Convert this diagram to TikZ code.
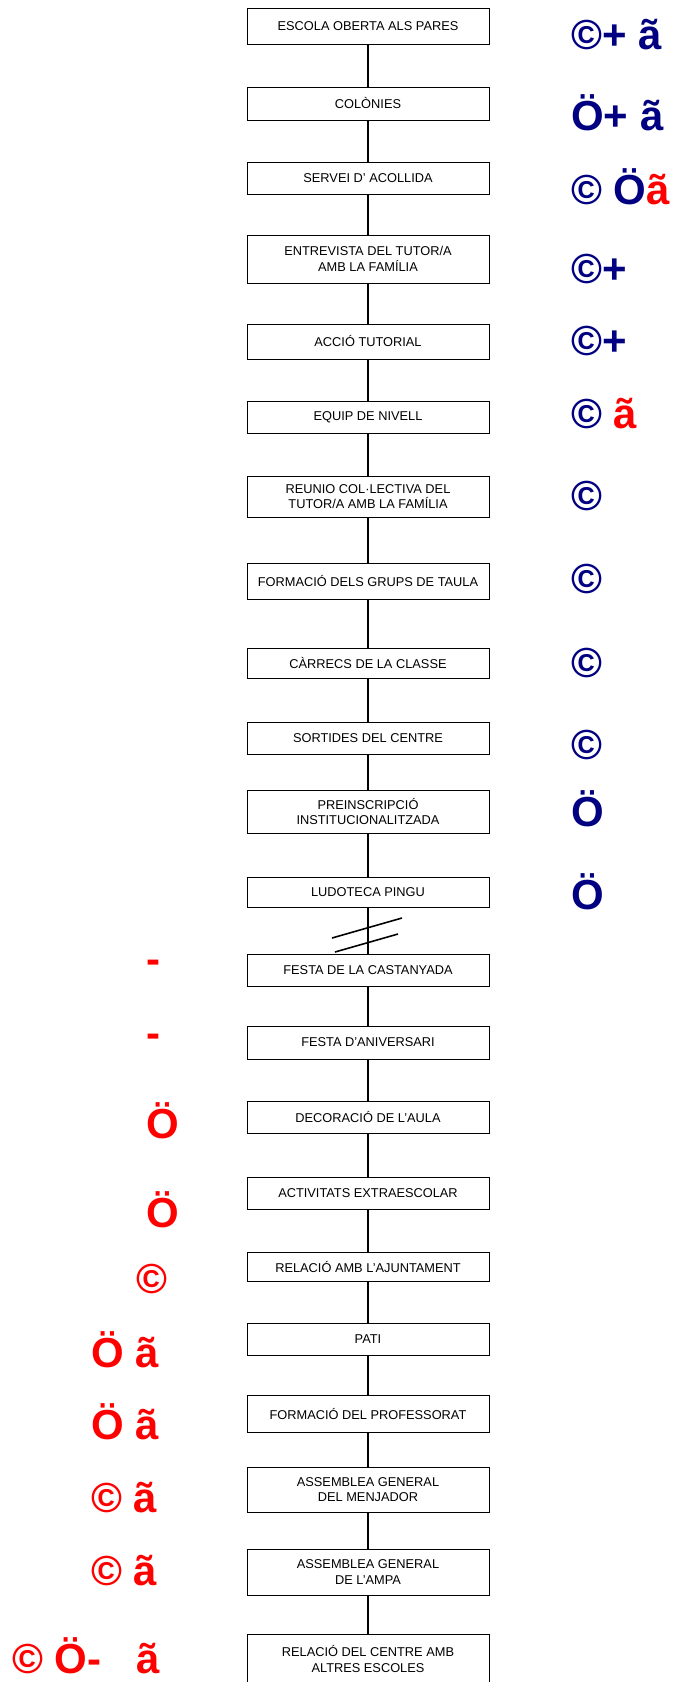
\documentclass[tikz,border=0pt]{standalone}
\usepackage{fontspec}
\setmainfont{Liberation Sans}
\usepackage{tikz}
\definecolor{symblue}{RGB}{0,0,128}
\definecolor{symred}{RGB}{255,0,0}
\tikzset{
	box/.style={draw=black, line width=1pt, minimum width=242, inner sep=0pt, align=center, font=\fontsize{12.8}{15.5}\selectfont},
	link/.style={line width=1.6pt},
	symb/.style={anchor=base west, inner sep=0pt, font=\fontsize{42}{42}\selectfont\bfseries},
	bluesym/.style={symb, text=symblue},
	redsym/.style={symb, text=symred}
}

\begin{document}
\begin{tikzpicture}[x=1pt, y=-1pt]
		%%%%% START %%%%%
		\useasboundingbox (0, 0) rectangle (674, 1682);
		
		\node[box, minimum height=36] (b1) at (368, 26) {ESCOLA OBERTA ALS PARES};
		\node[box, minimum height=33] (b2) at (368, 103.5) {COLÒNIES};
		\node[box, minimum height=32] (b3) at (368, 178) {SERVEI D' ACOLLIDA};
		\node[box, minimum height=48] (b4) at (368, 259) {ENTREVISTA DEL TUTOR/A\\AMB LA FAMÍLIA};
		\node[box, minimum height=35] (b5) at (368, 341.5) {ACCIÓ TUTORIAL};
		\node[box, minimum height=32] (b6) at (368, 417) {EQUIP DE NIVELL};
		\node[box, minimum height=41] (b7) at (368, 496.5) {REUNIO COL·LECTIVA DEL\\TUTOR/A AMB LA FAMÍLIA};
		\node[box, minimum height=36] (b8) at (368, 581) {FORMACIÓ DELS GRUPS DE TAULA};
		\node[box, minimum height=30] (b9) at (368, 663) {CÀRRECS DE LA CLASSE};
		\node[box, minimum height=32] (b10) at (368, 738) {SORTIDES DEL CENTRE};
		\node[box, minimum height=43] (b11) at (368, 811.5) {PREINSCRIPCIÓ\\INSTITUCIONALITZADA};
		\node[box, minimum height=30] (b12) at (368, 892) {LUDOTECA PINGU};
		
		\node[box, minimum height=32] (b13) at (368, 970) {FESTA DE LA CASTANYADA};
		\node[box, minimum height=33] (b14) at (368, 1042.5) {FESTA D'ANIVERSARI};
		\node[box, minimum height=32] (b15) at (368, 1117) {DECORACIÓ DE L'AULA};
		\node[box, minimum height=32] (b16) at (368, 1193) {ACTIVITATS EXTRAESCOLAR};
		\node[box, minimum height=29] (b17) at (368, 1266.5) {RELACIÓ AMB L'AJUNTAMENT};
		\node[box, minimum height=32] (b18) at (368, 1339) {PATI};
		\node[box, minimum height=37] (b19) at (368, 1413.5) {FORMACIÓ DEL PROFESSORAT};
		\node[box, minimum height=45] (b20) at (368, 1489.5) {ASSEMBLEA GENERAL\\DEL MENJADOR};
		\node[box, minimum height=46] (b21) at (368, 1572) {ASSEMBLEA GENERAL\\DE L'AMPA};
		\node[box, minimum height=50] (b22) at (368, 1659) {RELACIÓ DEL CENTRE AMB\\ALTRES ESCOLES};
		
		\draw[link] (b1) -- (b2);
		\draw[link] (b2) -- (b3);
		\draw[link] (b3) -- (b4);
		\draw[link] (b4) -- (b5);
		\draw[link] (b5) -- (b6);
		\draw[link] (b6) -- (b7);
		\draw[link] (b7) -- (b8);
		\draw[link] (b8) -- (b9);
		\draw[link] (b9) -- (b10);
		\draw[link] (b10) -- (b11);
		\draw[link] (b11) -- (b12);
		\draw[link] (b12) -- (b13);
		\draw[link] (b13) -- (b14);
		\draw[link] (b14) -- (b15);
		\draw[link] (b15) -- (b16);
		\draw[link] (b16) -- (b17);
		\draw[link] (b17) -- (b18);
		\draw[link] (b18) -- (b19);
		\draw[link] (b19) -- (b20);
		\draw[link] (b20) -- (b21);
		\draw[link] (b21) -- (b22);
		
		% break marks
		\draw[link] (332, 938) -- (402, 918);
		\draw[link] (335, 952) -- (398, 934);
		
		\node[bluesym] (s1) at (571, 49) {©+ ã};
		\node[bluesym] (s2) at (571, 130) {Ö+ ã};
		\node[bluesym] (s3) at (571, 204) {© Ö\textcolor{symred}{ã}};
		\node[bluesym] (s4) at (571, 283) {©+};
		\node[bluesym] (s5) at (571, 355) {©+};
		\node[bluesym] (s6) at (571, 428) {© \textcolor{symred}{ã}};
		\node[bluesym] (s7) at (571, 510) {©};
		\node[bluesym] (s8) at (571, 593) {©};
		\node[bluesym] (s9) at (571, 677) {©};
		\node[bluesym] (s10) at (571, 759) {©};
		\node[bluesym] (s11) at (571, 826) {Ö};
		\node[bluesym] (s12) at (571, 909) {Ö};
		
		\node[redsym] (s13) at (146, 973) {-};
		\node[redsym] (s14) at (146, 1047) {-};
		\node[redsym] (s15) at (146, 1138) {Ö};
		\node[redsym] (s16) at (146, 1227) {Ö};
		\node[redsym] (s17) at (136, 1293) {©};
		\node[redsym] (s18) at (91, 1367) {Ö ã};
		\node[redsym] (s19) at (91, 1439) {Ö ã};
		\node[redsym] (s20) at (91, 1512) {© ã};
		\node[redsym] (s21) at (91, 1585) {© ã};
		\node[redsym] (s22) at (12, 1673) {© Ö-\ \ \ ã};
		
		%%%%% END %%%%%
	\end{tikzpicture}
\end{document}
